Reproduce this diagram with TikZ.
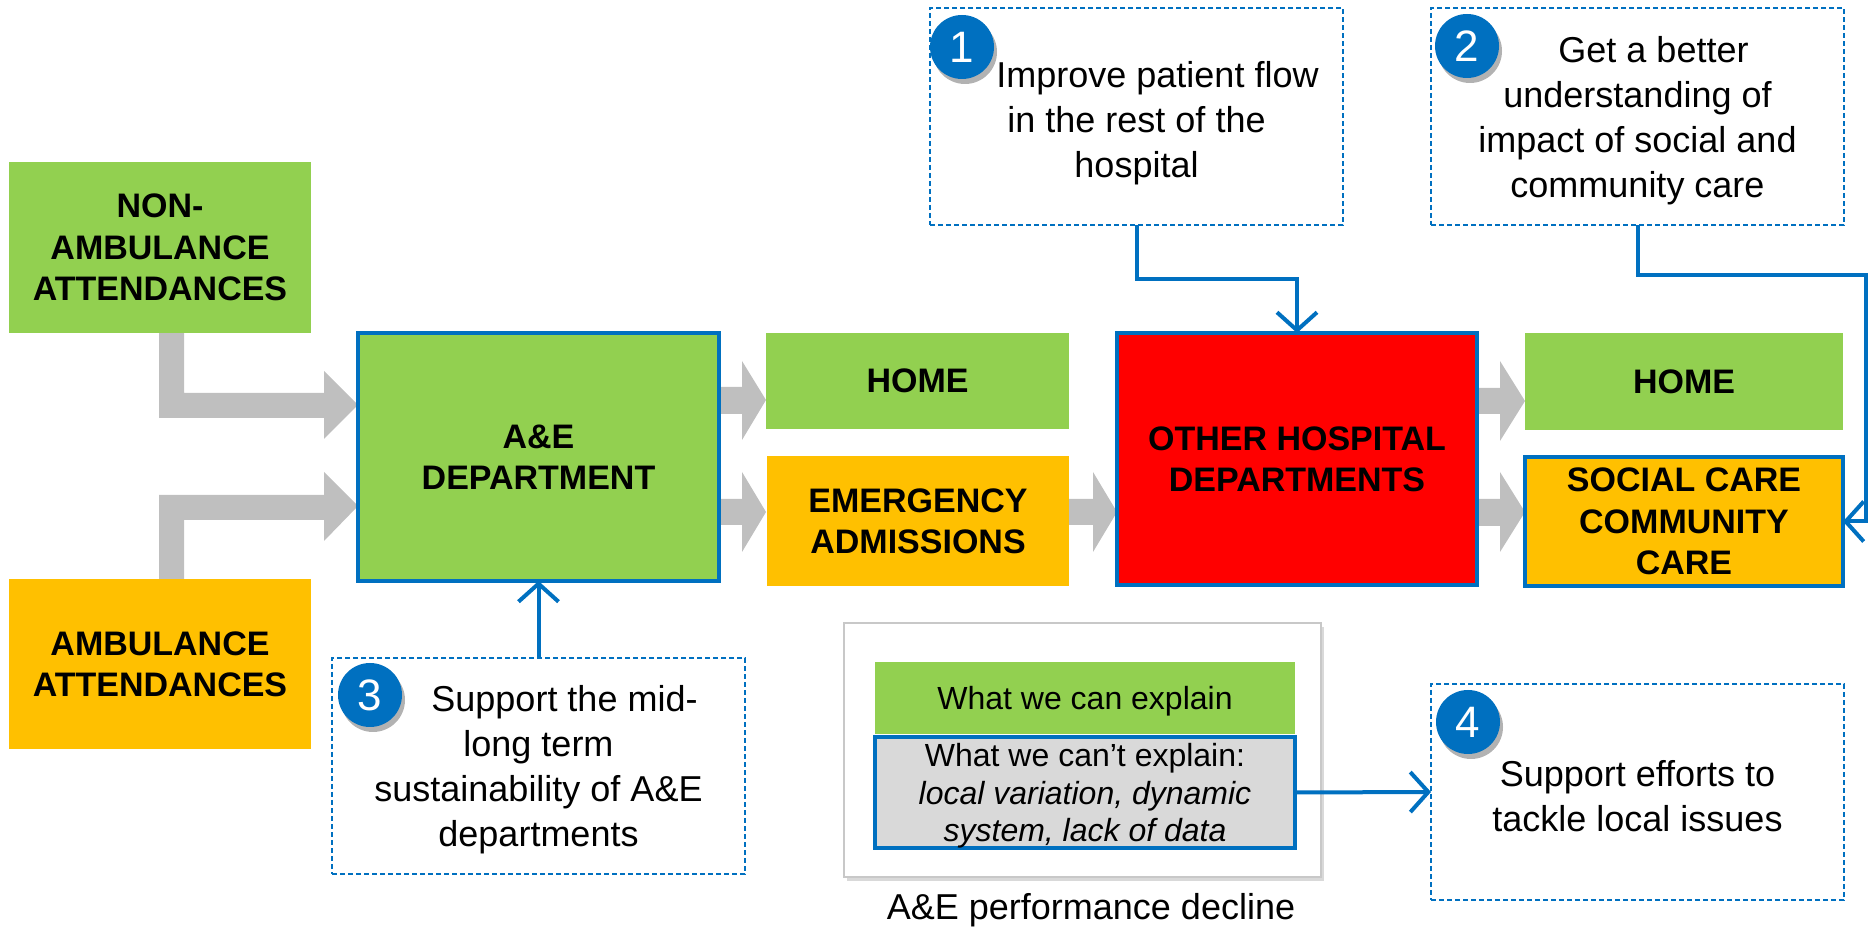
\documentclass[tikz,border=0pt]{standalone}
\usepackage{fontspec}
\setmainfont{Liberation Sans}
\usetikzlibrary{arrows.meta,shadows,calc}
\definecolor{cgreen}{HTML}{92D050}
\definecolor{corange}{HTML}{FFC000}
\definecolor{cred}{HTML}{FF0000}
\definecolor{cblue}{HTML}{0070C0}
\definecolor{carrow}{HTML}{BFBFBF}
\definecolor{cgraybox}{HTML}{D9D9D9}
\definecolor{cframe}{HTML}{C8C8C8}
\begin{document}
\begin{tikzpicture}[x=0.5pt,y=-0.5pt,
  lbl/.style={font=\fontsize{17}{20.7}\selectfont\bfseries, align=center, inner sep=0pt, outer sep=0pt, text depth=0pt},
  greenbox/.style={lbl, fill=cgreen},
  orangebox/.style={lbl, fill=corange},
  blueedge/.style={draw=cblue, line width=2pt},
  notebox/.style={draw=cblue, line width=0.8pt, dash pattern=on 2.5pt off 1.5pt, fill=white,
    inner sep=0pt, outer sep=0pt},
  notetext/.style={align=center, inner sep=0pt, font=\fontsize{18}{22.5}\selectfont},
  numcirc/.style={circle, fill=cblue, text=white, minimum size=32pt, inner sep=0pt,
    font=\fontsize{22}{22}\selectfont,
    drop shadow={shadow xshift=1.5pt, shadow yshift=-2.5pt, opacity=0.3, fill=black}},
  blockarrow/.style={fill=carrow},
  link/.style={draw=cblue, line width=2pt, -{Straight Barb[length=9pt,width=20pt,line width=2pt]}},
  smalltext/.style={font=\fontsize{16}{18.75}\selectfont, align=center, inner sep=0pt, outer sep=0pt, text depth=0pt}
]
\useasboundingbox (0,0) rectangle (1869,929);

% grey block arrows (shapes)
\fill[blockarrow] (159,333) -- (184,333) -- (184,393) -- (324,393) -- (324,371) -- (358,405)
  -- (324,439) -- (324,418) -- (159,418) -- cycle;
\fill[blockarrow] (159,579) -- (159,495) -- (324,495) -- (324,472) -- (358,506) -- (324,541)
  -- (324,520) -- (184,520) -- (184,579) -- cycle;
\fill[blockarrow] (717,387) -- (742,387) -- (742,361) -- (766,400) -- (742,440) -- (742,414) -- (717,414) -- cycle;
\fill[blockarrow] (717,499) -- (742,499) -- (742,472) -- (766,512) -- (742,552) -- (742,525) -- (717,525) -- cycle;
\fill[blockarrow] (1069,499) -- (1093,499) -- (1093,472) -- (1117,512) -- (1093,552) -- (1093,525) -- (1069,525) -- cycle;
\fill[blockarrow] (1477,388) -- (1500,388) -- (1500,361) -- (1525,401) -- (1500,441) -- (1500,414) -- (1477,414) -- cycle;
\fill[blockarrow] (1477,499) -- (1500,499) -- (1500,472) -- (1525,512) -- (1500,552) -- (1500,526) -- (1477,526) -- cycle;

% main flow boxes
\node[greenbox, minimum width=151pt, minimum height=85.5pt] (nonamb) at (160,247.5)
  {NON-\\AMBULANCE\\ATTENDANCES};
\node[orangebox, minimum width=151pt, minimum height=85pt] (amb) at (160,664)
  {AMBULANCE\\ATTENDANCES};
\node[greenbox, blueedge, minimum width=180.5pt, minimum height=124pt] (ae) at (538.5,457)
  {A\&E\\DEPARTMENT};
\node[greenbox, minimum width=151.5pt, minimum height=48pt] (home1) at (917.5,381) {HOME};
\node[orangebox, minimum width=151pt, minimum height=65pt] (emerg) at (918,521)
  {EMERGENCY\\ADMISSIONS};
\node[lbl, fill=cred, blueedge, minimum width=180pt, minimum height=126pt] (other) at (1297,459)
  {OTHER HOSPITAL\\DEPARTMENTS};
\node[greenbox, minimum width=159pt, minimum height=48.5pt] (home2) at (1684,381.5) {HOME};
\node[orangebox, blueedge, minimum width=159pt, minimum height=64.5pt] (social) at (1684,521.5)
  {SOCIAL CARE\\COMMUNITY\\CARE};

% note boxes
\node[notebox, minimum width=206.5pt, minimum height=108.5pt] (b1) at (1136.5,116.5) {};
\node[notetext] (t1) at ($(b1.center)+(0,7)$)
  {\hspace*{21pt}Improve patient flow\\in the rest of the\\hospital};
\node[notebox, minimum width=206.5pt, minimum height=108.5pt] (b2) at (1637.5,116.5) {};
\node[notetext] (t2) at ($(b2.center)+(0,4)$)
  {\hspace*{16pt}Get a better\\understanding of\\impact of social and\\community care};
\node[notebox, minimum width=206.5pt, minimum height=108pt] (b3) at (538.5,766) {};
\node[notetext] (t3) at ($(b3.center)+(0,4)$)
  {\hspace*{26pt}Support the mid-\\long term\\sustainability of A\&E\\departments};
\node[notebox, minimum width=206.5pt, minimum height=108pt] (b4) at (1637.5,792) {};
\node[notetext] (t4) at ($(b4.center)+(0,4)$)
  {Support efforts to\\tackle local issues};

% explain panel
\node[draw=cframe, line width=0.8pt, fill=white, minimum width=238.5pt, minimum height=127pt, inner sep=0pt,
  drop shadow={shadow xshift=1.5pt, shadow yshift=-2pt, opacity=0.15, fill=black}] (panel) at (1082.5,750) {};
\node[smalltext, fill=cgreen, minimum width=210pt, minimum height=36pt] (can) at (1085,698)
  {What we can explain};
\node[smalltext, fill=cgraybox, blueedge, minimum width=210pt, minimum height=55.5pt] (cant) at (1085,792.5)
  {What we can’t explain:\\\textit{local variation, dynamic}\\\textit{system, lack of data}};
\node[font=\fontsize{18}{22}\selectfont, inner sep=0pt, text depth=0pt] (decline) at (1091,906) {A\&E performance decline};

% number badges
\node[numcirc] (n1) at (962,47) {1};
\node[numcirc] (n2) at (1467,46) {2};
\node[numcirc] (n3) at (370,695) {3};
\node[numcirc] (n4) at (1468,722) {4};

% connectors
\draw[link] (b1.south) |- ($(b1.south)!0.5!(other.north)$) -| (other.north);
\coordinate (c2) at (1866,275);
\draw[link] (b2.south) |- (c2) |- (social.east);
\draw[link] (b3.north) -- (ae.south);
\draw[link] (cant.east) -- (b4.west);
\end{tikzpicture}
\end{document}
